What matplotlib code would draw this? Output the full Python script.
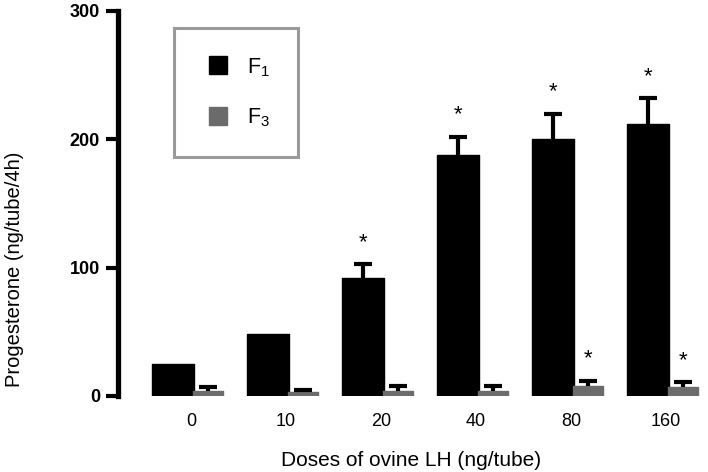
import numpy as np
import matplotlib
matplotlib.use("Agg")
import matplotlib.pyplot as plt
from matplotlib.lines import Line2D

plt.rcParams['font.family'] = ['Liberation Sans', 'DejaVu Sans']
plt.rcParams['mathtext.fontset'] = 'custom'
plt.rcParams['mathtext.rm'] = 'Liberation Sans'

doses = ['0', '10', '20', '40', '80', '160']
f1_mean = [25, 48, 92, 188, 200, 212]
f1_err = [0, 0, 11, 14, 20, 20]
f3_mean = [4, 3, 4, 4, 8, 7]
f3_err = [3, 2, 4, 4, 4, 4]
f1_sig = [False, False, True, True, True, True]
f3_sig = [False, False, False, False, True, True]

F1_COL = 'black'
F3_COL = '#6b6b6b'

fig = plt.figure(figsize=(7.08, 4.72), dpi=100)
ax = fig.add_axes([118/708, 1 - 396/472, (705-118)/708, (396-11)/472])

x = np.arange(len(doses))
w1, w3, off = 0.442, 0.316, 0.368

ax.bar(x, f1_mean, w1, color=F1_COL, edgecolor=F1_COL, linewidth=1, joinstyle='round', zorder=2)
ax.bar(x + off, f3_mean, w3, color=F3_COL, edgecolor=F3_COL, linewidth=1, joinstyle='round', zorder=2)

ekw = dict(fmt='none', ecolor='black', elinewidth=3, capsize=6.5, capthick=3, zorder=3)
m1 = np.array(f1_err) > 0
eb1 = ax.errorbar(x[m1], np.array(f1_mean)[m1], yerr=[np.zeros(m1.sum()), np.array(f1_err)[m1]], **ekw)
eb3 = ax.errorbar(x + off, f3_mean, yerr=[np.zeros(len(x)), f3_err], **ekw)
# only the upper caps are wanted
for eb in (eb1, eb3):
    eb[1][0].set_visible(False)

for i in range(len(x)):
    if f1_sig[i]:
        ax.annotate('*', (x[i], f1_mean[i] + f1_err[i]), xytext=(0, 8), textcoords='offset points',
                    ha='center', va='bottom', fontsize=16)
    if f3_sig[i]:
        ax.annotate('*', (x[i] + off, f3_mean[i] + f3_err[i]), xytext=(0, 8), textcoords='offset points',
                    ha='center', va='bottom', fontsize=16)

ax.set_xlim(-0.579, 5.6)
ax.set_ylim(0, 300)
ax.set_yticks([0, 100, 200, 300])
ax.set_xticks(x + 0.19)
ax.set_xticklabels(doses)
ax.tick_params(axis='x', length=0, pad=12, labelsize=13)
ax.tick_params(axis='y', length=9, width=3, pad=4, labelsize=13)
for lab in ax.get_yticklabels():
    lab.set_fontweight('bold')
for s in ['top', 'right', 'bottom']:
    ax.spines[s].set_visible(False)
ax.spines['left'].set_linewidth(3.8)
ax.patch.set_alpha(0)

ax.set_ylabel('Progesterone (ng/tube/4h)', fontsize=14.5)
ax.yaxis.set_label_coords(-0.16, 0.33)
ax.set_xlabel('Doses of ovine LH (ng/tube)', fontsize=15, labelpad=15)

handles = [Line2D([], [], marker='s', ls='none', ms=12.5, color=F1_COL),
           Line2D([], [], marker='s', ls='none', ms=12.5, color=F3_COL)]
leg = ax.legend(handles, [r'$\mathregular{F_1}$', r'$\mathregular{F_3}$'], loc='upper left',
                bbox_to_anchor=(174/708, 1 - 28/472), bbox_transform=fig.transFigure,
                fontsize=15.5, handlelength=1.5, handletextpad=0.6, borderpad=1.3,
                labelspacing=1.3, fancybox=False, framealpha=1, borderaxespad=0)
leg.get_frame().set_edgecolor('#9a9a9a')
leg.get_frame().set_linewidth(2.2)

fig.savefig('out.png', dpi=100)
